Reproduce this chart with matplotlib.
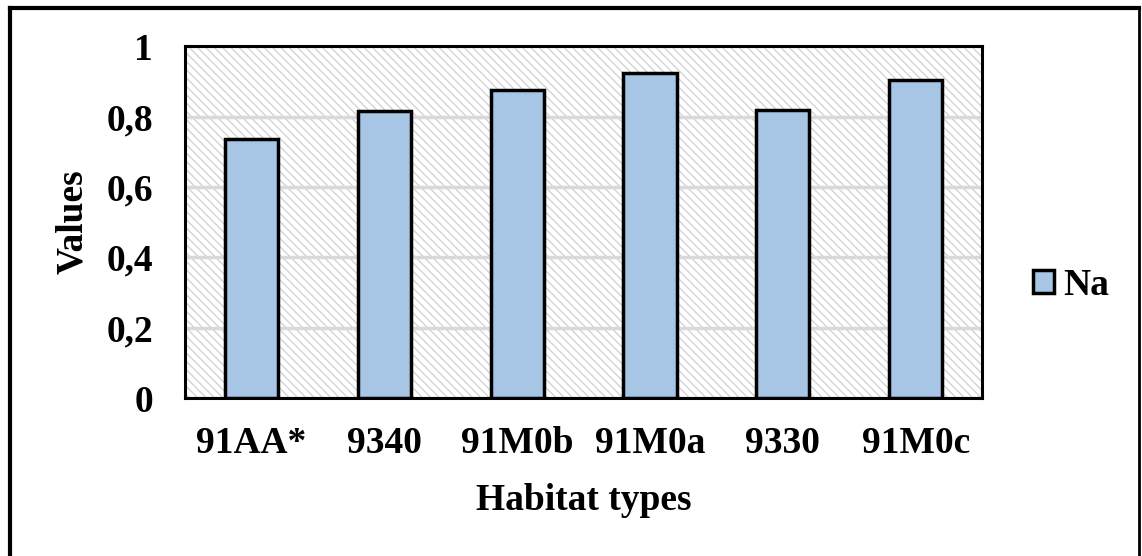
import matplotlib.pyplot as plt
from matplotlib.lines import Line2D

# Na values per habitat type
habitats = ['91AA*', '9340', '91M0b', '91M0a', '9330', '91M0c']
na_values = [0.736, 0.815, 0.875, 0.923, 0.818, 0.903]
yticks = [0, 0.2, 0.4, 0.6, 0.8, 1.0]
ytick_labels = ['0', '0,2', '0,4', '0,6', '0,8', '1']

plt.rcParams['font.family'] = 'Liberation Serif'
plt.rcParams['font.weight'] = 'bold'
plt.rcParams['hatch.color'] = '#d0d0d0'
plt.rcParams['hatch.linewidth'] = 1.0

fig = plt.figure(figsize=(11.42, 5.56), dpi=100)
ax = fig.add_axes([0.162, 0.284, 0.698, 0.633])

# hatched plot area background
ax.patch.set_facecolor('white')
ax.patch.set_hatch('\\\\\\\\')
ax.patch.set_edgecolor('#d4d4d4')

x = range(len(habitats))
ax.bar(x, na_values, width=0.4, color='#a7c5e5', edgecolor='black',
       linewidth=2.5, label='Na', zorder=3)

ax.set_xlim(-0.5, len(habitats) - 0.5)
ax.set_ylim(0, 1)
ax.set_yticks(yticks)
ax.set_yticklabels(ytick_labels)
ax.set_xticks(list(x))
ax.set_xticklabels(habitats)
ax.tick_params(length=0, labelsize=27)
ax.tick_params(axis='x', pad=20)
ax.tick_params(axis='y', pad=23)
ax.yaxis.grid(True, color='#d9d9d9', linewidth=2.5, zorder=1)
ax.set_axisbelow(True)
for s in ax.spines.values():
    s.set_linewidth(2.2)
    s.set_color('black')

ax.set_xlabel('Habitat types', fontsize=27, fontweight='bold', labelpad=16)
ax.set_ylabel('Values', fontsize=27, fontweight='bold', labelpad=12)

ax.legend(loc='center left', bbox_to_anchor=(1.022, 0.32), frameon=False,
          fontsize=27, handlelength=0.55, handleheight=0.55, handletextpad=0.25)

# outer frame (left, top, right; bottom runs off the image)
fig.add_artist(Line2D([0.009, 0.009], [0, 0.986], transform=fig.transFigure,
                      color='black', linewidth=3))
fig.add_artist(Line2D([0.009, 0.997], [0.986, 0.986], transform=fig.transFigure,
                      color='black', linewidth=3))
fig.add_artist(Line2D([0.997, 0.997], [0, 0.986], transform=fig.transFigure,
                      color='black', linewidth=2))

plt.savefig('out.png', dpi=100)
